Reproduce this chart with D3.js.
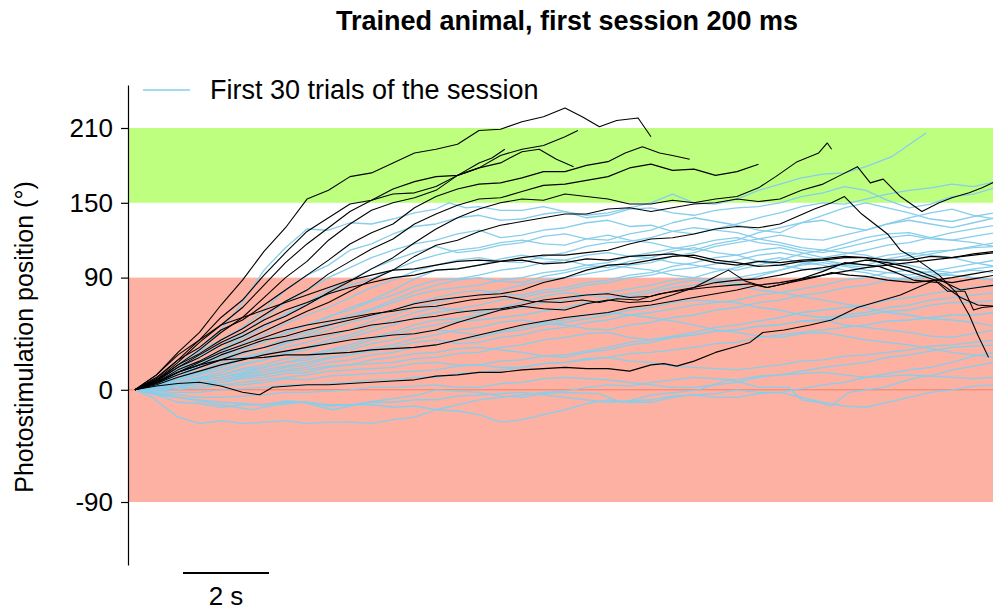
<!DOCTYPE html>
<html>
<head>
<meta charset="utf-8">
<script src="https://cdn.jsdelivr.net/npm/d3@7"></script>
<style>
  body { margin: 0; background: #fff; }
  svg { display: block; }
  text { font-family: "Liberation Sans", Arial, sans-serif; fill: #000; }
</style>
</head>
<body>
<svg id="chart" width="993" height="612"></svg>
<script>
// ---- labels and reference values ----
const titleText = "Trained animal, first session 200 ms";
const yLabelText = "Photostimulation position (°)";
const legendText = "First 30 trials of the session";
const yTickValues = [-90, 0, 90, 150, 210];
const targetZone = [150, 210];     // green band (degrees)
const penaltyZone = [-90, 90];     // red band (degrees)
const scaleBarSeconds = 2;
const scaleBarLabel = "2 s";

// sampling times (s) for traces given as plain value lists
const tGrid = [0,0.5,1,1.5,2,2.5,3,3.5,4,4.5,5,5.5,6,6.5,7,7.5,8,8.5,9,9.5,10,
               10.5,11,11.5,12,12.5,13,13.5,14,14.5,15,15.5,16,16.5,17,17.5,18,18.5,19,19.5,20];

// ---- first 30 trials (degrees); plain lists follow tGrid, pairs are [t, deg] ----
const earlyTrials = [
  [[0,0],[0.5,8],[1,20],[1.5,32],[2,48],[2.5,70],[3,96],[3.5,114],[4,129],[4.5,128],[5,134],[5.5,133],[6,137],[6.5,142],[7,145],[7.3,150],[7.7,146],[8,147],[8.5,144],[9,144],[9.5,147],[10,143],[10.5,140],[11,142],[11.5,146],[12,150],[12.5,157],[13,150],[13.5,149],[14,153],[14.5,160],[15,165],[15.5,170],[16,173],[16.5,174],[17,179],[17.6,187],[18.1,199],[18.4,206]],
  [0,7,18,31,40,50,64,80,92,100,112,117,125,131,133,138,140,136,137,141,143,138,140,145,146,142,140,144,146,147,150,155,158,163,160,152,146,149,155,157,162],
  [0,6,16,27,36,45,58,70,80,90,98,106,112,117,120,125,128,122,124,128,130,134,136,131,132,127,125,129,133,138,142,147,150,149,153,157,160,162,165,163,167],
  [0,5,14,21,30,41,50,61,70,80,88,97,104,110,115,110,112,116,118,123,125,121,120,125,128,134,138,135,132,128,126,134,140,146,150,146,142,137,135,139,142],
  [0,6,15,22,32,43,52,60,68,77,84,89,96,103,108,112,114,118,120,117,116,121,124,120,118,114,112,117,120,126,130,134,136,131,128,133,138,142,145,140,137],
  [0,4,12,19,28,37,44,53,60,66,74,82,88,95,100,104,106,103,102,107,110,115,118,119,122,127,130,128,126,121,118,114,112,117,122,125,126,122,120,118,115],
  [0,3,10,18,24,32,38,46,52,58,66,72,80,89,96,97,100,105,108,105,104,100,98,103,106,111,114,110,108,103,100,97,96,101,104,108,110,108,106,102,99],
  [0,5,12,20,26,34,40,45,52,59,64,71,76,83,88,89,92,96,98,102,104,108,110,107,106,102,100,97,96,100,104,109,112,110,108,103,100,96,94,96,94],
  [0,4,10,15,22,29,34,41,46,54,60,65,72,79,84,88,90,87,86,91,94,98,100,98,96,92,90,95,98,103,106,102,100,96,94,90,88,91,92,90,88],
  [0,2,8,14,18,25,30,38,44,51,58,64,70,76,80,82,84,88,90,94,96,100,102,107,110,113,116,120,122,118,116,112,110,114,118,122,124,121,120,123,126],
  [0,3,9,15,20,26,30,37,42,48,54,58,64,70,74,78,80,77,76,80,82,86,88,92,94,99,102,106,108,112,114,110,106,109,112,116,118,122,126,129,132],
  [0,2,8,13,18,24,28,34,38,43,48,55,60,66,70,74,76,80,84,88,90,93,96,100,102,107,110,115,118,121,124,121,120,124,128,133,136,133,130,134,138],
  [0,1,6,10,14,20,24,30,34,40,44,50,56,62,66,64,62,66,70,75,78,76,74,77,80,85,88,86,84,80,78,75,72,69,66,62,60,57,56,54,51],
  [0,3,8,12,16,21,24,29,32,38,42,47,52,58,62,65,68,72,74,78,80,84,86,90,92,96,98,101,104,108,110,107,104,100,98,102,106,109,112,115,118],
  [0,2,6,10,12,17,20,25,28,32,36,42,46,52,56,57,60,64,66,70,72,76,78,81,84,88,90,88,86,91,96,101,104,101,100,105,108,111,112,114,115],
  [0,1,4,8,10,14,18,22,26,31,34,40,44,49,52,55,56,58,60,63,66,70,72,75,78,82,84,88,90,93,96,100,102,99,96,94,92,95,98,101,104],
  [0,2,6,9,12,16,18,22,24,29,32,37,40,45,48,46,44,47,50,54,56,60,62,60,58,55,52,48,46,43,42,45,46,43,40,38,36,33,30,28,26],
  [0,1,4,5,8,12,14,18,20,25,28,33,36,41,44,48,50,54,56,53,52,49,48,52,54,58,60,64,66,70,72,76,78,82,84,88,90,92,94,97,99],
  [0,2,4,8,10,13,16,19,22,26,28,31,34,38,40,37,38,42,44,48,50,54,56,60,62,65,68,70,72,76,78,81,84,88,90,94,96,94,92,90,88],
  [0,-1,2,5,6,10,12,16,18,22,24,28,30,34,36,40,42,46,48,52,54,57,60,64,66,70,72,71,70,66,64,60,58,60,62,66,68,72,74,76,78],
  [0,1,2,5,6,9,10,13,14,18,20,24,26,29,30,33,34,32,30,27,26,30,32,36,38,42,44,47,48,51,52,55,56,58,60,63,64,68,70,70,72],
  [0,1,4,6,8,11,12,15,16,19,20,21,22,25,26,29,30,34,36,40,42,45,46,42,40,42,44,47,48,51,52,55,56,52,50,48,46,43,42,45,48],
  [0,0,2,1,4,6,8,10,12,15,16,17,18,21,22,20,20,23,24,27,28,31,34,38,40,43,46,50,52,55,58,62,64,66,68,72,74,77,80,82,84],
  [0,-2,0,3,4,4,6,9,8,11,12,13,14,15,16,19,20,18,18,21,22,25,26,23,22,19,18,17,16,18,20,23,24,27,28,30,32,35,36,38,40],
  [0,-3,-2,-2,0,1,2,4,4,5,6,8,8,10,10,13,14,16,18,21,22,24,26,29,30,32,34,37,38,42,44,46,48,50,52,55,56,58,60,60,62],
  [0,-3,-4,-6,-6,-5,-4,-2,-2,-1,0,2,2,3,4,2,2,5,6,9,10,9,8,6,4,2,2,4,6,10,12,15,18,20,22,26,28,31,34,35,36],
  [[0,0],[0.5,-3],[1,-6],[1.5,-9],[2,-12],[2.7,-16],[3.3,-12],[3.9,-10],[4.6,-16],[5,-13],[5.4,-10],[6.2,-6],[6.6,-4],[7,0],[7.5,-1],[8,-2],[8.5,-5],[9,-6],[9.5,-3],[10,-2],[10.8,-3],[11.3,-10],[11.7,-7],[12,-4],[12.6,-2],[13.1,0],[13.8,8],[14.2,5],[14.5,2],[15.2,2],[15.5,-8],[15.9,-10],[16.2,-13],[16.6,-2],[17,0],[17.4,2],[17.8,6],[18.2,10],[18.6,12],[19,16],[19.5,19],[20,22]],
  [0,-4,-6,-8,-10,-11,-12,-10,-10,-12,-12,-10,-10,-8,-8,-5,-4,-3,-2,-4,-6,-8,-10,-9,-8,-5,-4,-6,-6,-3,-2,-6,-10,-13,-14,-10,-6,-2,0,3,4],
  [[0,0],[0.5,-4],[1,-10],[1.5,-11],[2,-14],[2.5,-12],[3,-12],[3.5,-9],[4,-10],[4.5,-13],[5,-12],[5.5,-12],[6,-14],[6.5,-13],[7,-16],[7.5,-17],[8,-20],[8.5,-26],[9,-24],[9.5,-20],[10,-16],[10.5,-11],[11,-8],[11.5,-10],[12,-10],[12.5,-6],[13,-4],[13.5,-3],[14,0],[14.5,-2],[15,-2],[15.5,1],[16,4],[16.5,6],[17,10],[17.5,13],[18,16],[18.5,18],[19,22],[19.5,27],[20,30]],
  [[0,0],[0.4,-6],[0.7,-14],[1,-22],[1.5,-27],[2,-25],[2.5,-27],[3,-26],[3.5,-25],[4,-27],[4.5,-26],[5,-26],[5.5,-27],[6,-24],[6.5,-22],[7,-16],[7.5,-12],[8,-8],[8.5,-6],[9,-4],[9.5,-2],[10,-1],[10.5,2],[11,4],[11.5,3],[12,6],[12.5,8],[13,10],[13.5,9],[14,8],[14.5,11],[15,12],[15.5,13],[16,14],[16.5,12],[17,10],[17.5,11],[18,12],[18.5,11],[19,10],[19.5,9],[20,10]]
];

// ---- later trials of the session, [t (s), position (deg)] ----
const laterTrials = [
  [[0,0],[0.5,12],[1,30],[1.5,46],[2,68],[2.5,88],[3,111],[3.5,130],[4,153],[4.5,160],[5,171],[5.5,174],[6,182],[6.5,190],[7,193],[7.5,197],[8,208],[8.5,209],[9,215],[9.5,219],[10,226],[10.4,219],[10.8,211],[11.2,216],[11.7,218],[12,203]],
  [[0,0],[0.5,9],[1,24],[1.5,40],[2,58],[2.5,72],[3,92],[3.5,110],[4,127],[4.5,138],[5,149],[5.5,152],[6,161],[6.5,167],[7,171],[7.5,172],[8,178],[8.5,188],[9,193],[9.5,196],[10,203],[10.3,208]],
  [[0,0],[0.5,8],[1,22],[1.5,38],[2,52],[2.5,66],[3,84],[3.5,102],[4,117],[4.5,130],[5,143],[5.5,152],[6,157],[6.5,158],[7,163],[7.5,172],[8,178],[8.5,182],[9,191],[9.4,193],[9.8,185],[10.2,179]],
  [[0,0],[0.5,7],[1,20],[1.5,32],[2,46],[2.5,58],[3,74],[3.5,90],[4,103],[4.5,120],[5,133],[5.5,144],[6,150],[6.5,154],[7,160],[7.5,172],[8,182],[8.3,186],[8.6,193]],
  [[0,0],[0.5,10],[1,24],[1.5,34],[2,48],[2.5,56],[3,68],[3.5,80],[4,92],[4.5,104],[5,117],[5.5,126],[6,133],[6.5,146],[7,155],[7.5,161],[8,165],[8.5,166],[9,170],[9.5,175],[10,175],[10.5,180],[11,183],[11.4,190],[11.8,195],[12.2,190],[12.5,188],[12.9,185]],
  [[0,0],[0.5,8],[1,20],[1.5,29],[2,40],[2.5,49],[3,60],[3.5,71],[4,80],[4.5,93],[5,103],[5.5,113],[6,121],[6.5,133],[7,141],[7.5,148],[8,153],[8.5,154],[9,159],[9.5,164],[10,165],[10.5,168],[11,171],[11.5,178],[12,181],[12.5,176],[13,177],[13.5,172],[14,175],[14.5,181]],
  [[0,0],[0.5,7],[1,18],[1.5,26],[2,36],[2.5,43],[3,52],[3.5,59],[4,68],[4.5,78],[5,87],[5.5,97],[6,106],[6.5,118],[7,129],[7.5,138],[8,145],[8.5,150],[9,153],[9.5,152],[10,157],[10.5,155],[11,153],[11.5,149],[12,149],[12.5,152],[13,150],[13.5,153],[14,155],[14.5,162],[14.9,171],[15.4,183],[15.9,190],[16.1,198],[16.2,193]],
  [[0,0],[0.5,6],[1,16],[1.5,23],[2,32],[2.5,39],[3,47],[3.5,55],[4,63],[4.5,70],[5,79],[5.5,88],[6,96],[6.5,107],[7,116],[7.5,120],[8,127],[8.5,132],[9,135],[9.5,138],[10,141],[10.5,141],[11,145],[11.5,146],[12,143],[12.5,146],[13,149],[13.5,150],[14,153],[14.5,151],[15,153],[15.5,160],[16,165],[16.4,172],[16.8,179],[17.1,166],[17.4,169],[17.8,155],[18.3,143],[18.7,150],[19,154],[19.4,158],[19.7,162],[20,167]],
  [[0,0],[0.5,12],[1,28],[1.5,40],[2,52],[2.5,58],[3,64],[3.5,70],[4,76],[4.5,82],[5,88],[5.5,92],[6,96],[6.5,97],[7,100],[7.5,103],[8,104],[8.5,103],[9,106],[9.5,108],[10,108],[10.5,110],[11,112],[11.5,117],[12,121],[12.5,122],[13,125],[13.5,129],[14,131],[14.5,130],[15,133],[15.4,139],[15.8,145],[16.2,150],[16.5,155],[16.9,141],[17.2,133],[17.5,125],[17.8,112],[18.2,104],[18.7,92],[19.1,78],[19.4,60],[19.6,44],[19.85,26]],
  [[0,0],[0.5,7],[1,18],[1.5,28],[2,38],[2.5,46],[3,56],[3.5,64],[4,70],[4.5,77],[5,82],[5.5,86],[6,90],[6.5,92],[7,96],[7.5,97],[8,100],[8.5,103],[9,104],[9.5,101],[10,102],[10.5,105],[11,104],[11.5,107],[12,108],[12.5,109],[13,106],[13.5,102],[14,100],[14.5,103],[15,102],[15.5,104],[16,105],[16.5,107],[17,106],[17.5,104],[18,104],[18.5,107],[19,106],[19.5,109],[20,111]],
  [[0,0],[0.5,5],[1,14],[1.5,22],[2,30],[2.5,36],[3,42],[3.5,48],[4,52],[4.5,55],[5,58],[5.5,61],[6,63],[6.5,66],[7,67],[7.8,72],[8.6,75],[9.2,71],[9.9,70],[10.4,72],[10.8,70],[11.2,73],[11.7,72],[12.2,77],[12.8,80],[13.3,82],[13.9,84],[14.3,85],[14.7,82],[15.1,85],[15.5,88],[15.9,91],[16.2,94],[16.6,92],[17,91],[17.5,88],[18.1,86],[18.6,88],[18.9,79],[19.3,79],[19.5,64],[19.7,66],[20,67]],
  [[0,0],[0.5,3],[1,5],[1.5,6],[2,3],[2.5,-2],[2.9,-4],[3.2,2],[3.6,3],[4,4],[4.5,4],[5,5],[5.5,6],[6,7],[6.5,8],[7,11],[7.5,12],[8,14],[8.5,14],[9,16],[9.5,17],[10,18],[10.5,17],[11,17],[11.5,15],[12,20],[12.3,21],[12.6,19],[13,23],[13.5,30],[14,35],[14.3,38],[14.6,46],[15.1,48],[15.7,52],[16.2,56],[16.8,66],[17.2,70],[17.8,76],[18.2,82],[18.6,88],[19,90],[19.5,93],[20,96]],
  [[0,0],[0.5,6],[1,14],[1.5,20],[2,28],[2.5,34],[3,40],[3.5,43],[4,48],[4.5,52],[5,56],[5.5,60],[6,64],[6.5,69],[7,72],[7.5,74],[8,76],[8.5,77],[9,80],[9.5,86],[10,90],[10.5,96],[11,100],[11.5,101],[12,104],[12.5,107],[13,108],[13.5,104],[14,102],[14.5,99],[15,100],[15.5,103],[16,104],[16.5,106],[17,106],[17.5,100],[18,95],[18.6,88],[19,86],[19.5,89],[20,92]],
  [[0,0],[0.5,5],[1,12],[1.5,18],[2,24],[2.5,30],[3,34],[3.5,39],[4,42],[4.5,45],[5,48],[5.5,52],[6,54],[6.5,57],[7,59],[7.5,62],[8,64],[8.5,65],[9,68],[9.5,72],[10,74],[10.5,76],[11,77],[11.5,74],[12,75],[12.5,79],[13,82],[13.5,86],[14,88],[14.5,89],[15,92],[15.5,96],[16,98],[16.5,101],[17,104],[17.5,102],[18,98],[18.6,90],[19.2,80],[19.6,82],[20,84]],
  [[0,0],[0.5,4],[1,10],[1.5,15],[2,20],[2.5,24],[3,28],[3.5,31],[4,34],[4.5,37],[5,40],[5.5,42],[6,44],[6.5,45],[7,48],[7.5,54],[8,59],[8.5,64],[9,67],[9.5,65],[10,64],[10.5,69],[11,72],[11.5,70],[12,71],[12.5,76],[13,82],[13.4,89],[13.8,96],[14.2,87],[14.7,82],[15.1,85],[15.4,88],[16,95],[16.5,102],[17.3,99],[17.7,94],[18.1,88],[18.7,86],[19.2,74],[19.6,68],[20,67]],
  [[0,0],[0.5,6],[1,14],[1.5,20],[2,24],[2.5,25],[3,26],[3.5,28],[4,28],[4.5,29],[5,30],[5.5,32],[6,33],[6.5,34],[7,36],[7.5,40],[8,44],[8.5,48],[9,52],[9.5,55],[10,58],[10.5,60],[11,62],[11.5,66],[12,68],[12.5,71],[13,74],[13.5,77],[14,80],[14.5,84],[15,86],[15.5,89],[16,92],[16.5,95],[17,98],[17.5,100],[18,102],[18.5,104],[19,106],[19.5,108],[20,110]]
];

// ---- drawing ----
const svg = d3.select("#chart");
const W = 993;
const axisX = 128, axisTop = 85, axisBottom = 565;

const x = d3.scaleLinear().domain([0, 20]).range([135, 995]);
const y = d3.scaleLinear().domain([-90, 210]).range([502, 128]);

const toPairs = tr => (Array.isArray(tr[0]) ? tr : tr.map((v, i) => [tGrid[i], v]));

// zones
svg.append("rect")
  .attr("x", axisX + 0.5).attr("width", W - axisX)
  .attr("y", y(targetZone[1])).attr("height", y(targetZone[0]) - y(targetZone[1]))
  .attr("fill", "#bfff80");
svg.append("rect")
  .attr("x", axisX + 0.5).attr("width", W - axisX)
  .attr("y", y(penaltyZone[1])).attr("height", y(penaltyZone[0]) - y(penaltyZone[1]))
  .attr("fill", "#fdb1a2");
svg.append("line")
  .attr("x1", axisX + 0.5).attr("x2", W)
  .attr("y1", y(0)).attr("y2", y(0))
  .attr("stroke", "#f47e6c").attr("stroke-width", 1);

const line = d3.line().x(d => x(d[0])).y(d => y(d[1]));

svg.append("g").selectAll("path")
  .data(earlyTrials.map(toPairs))
  .join("path")
  .attr("d", line)
  .attr("fill", "none")
  .attr("stroke", "#87ceeb")
  .attr("stroke-width", 1.3)
  .attr("stroke-linejoin", "round");

svg.append("g").selectAll("path")
  .data(laterTrials.map(toPairs))
  .join("path")
  .attr("d", line)
  .attr("fill", "none")
  .attr("stroke", "#000")
  .attr("stroke-width", 1.1)
  .attr("stroke-linejoin", "round");

// y axis spanning the full plot height
const yAxisScale = y.copy()
  .domain([y.invert(axisBottom), y.invert(axisTop)])
  .range([axisBottom, axisTop]);
const yAxis = svg.append("g")
  .attr("transform", `translate(${axisX},0)`)
  .call(d3.axisLeft(yAxisScale)
    .tickValues(yTickValues)
    .tickFormat(d => String(d))
    .tickSize(7).tickSizeOuter(0).tickPadding(8));
yAxis.select(".domain").attr("stroke", "#000").attr("stroke-width", 1.2);
yAxis.selectAll(".tick line").attr("stroke", "#000").attr("stroke-width", 1.2);
yAxis.selectAll(".tick text")
  .attr("font-size", 26)
  .attr("font-family", "'Liberation Sans', Arial, sans-serif")
  .attr("fill", "#000");

// y label
svg.append("text")
  .attr("transform", "translate(33,337) rotate(-90)")
  .attr("text-anchor", "middle")
  .attr("font-size", 25)
  .text(yLabelText);

// title
svg.append("text")
  .attr("x", 567).attr("y", 30)
  .attr("text-anchor", "middle")
  .attr("font-size", 27)
  .attr("font-weight", "bold")
  .text(titleText);

// legend
svg.append("line")
  .attr("x1", 143).attr("x2", 190).attr("y1", 90).attr("y2", 90)
  .attr("stroke", "#87ceeb").attr("stroke-width", 1.5);
svg.append("text")
  .attr("x", 210).attr("y", 99)
  .attr("font-size", 27)
  .text(legendText);

// time scale bar
const sbX0 = 183;
const sbLen = x(scaleBarSeconds) - x(0);
svg.append("line")
  .attr("x1", sbX0).attr("x2", sbX0 + sbLen)
  .attr("y1", 573).attr("y2", 573)
  .attr("stroke", "#000").attr("stroke-width", 2);
svg.append("text")
  .attr("x", sbX0 + sbLen / 2).attr("y", 605)
  .attr("text-anchor", "middle")
  .attr("font-size", 26)
  .text(scaleBarLabel);
</script>
</body>
</html>
